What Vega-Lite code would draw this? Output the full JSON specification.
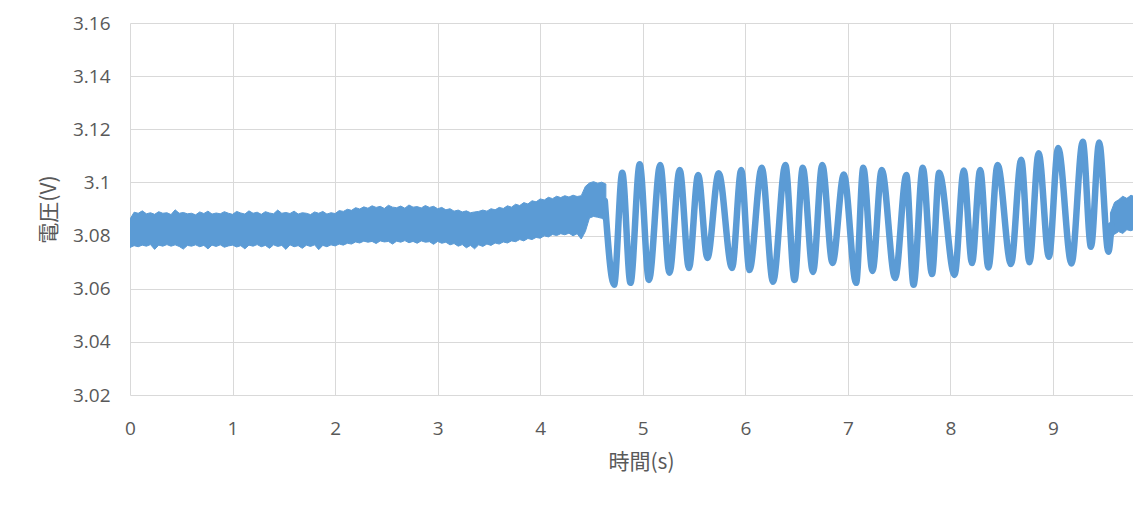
{
"$schema": "https://vega.github.io/schema/vega-lite/v6.json",
"width": 1003,
"height": 372,
"autosize": {"type": "none"},
"padding": {"left": 130, "top": 23, "right": 0, "bottom": 137},
"background": "white",
"config": {"view": {"stroke": null}},
"datasets": {
"band": [
{"t":0.00,"hi":3.0862,"lo":3.0755,"seg":"a"},
{"t":0.04,"hi":3.0888,"lo":3.0762,"seg":"a"},
{"t":0.08,"hi":3.0884,"lo":3.0758,"seg":"a"},
{"t":0.12,"hi":3.0893,"lo":3.0764,"seg":"a"},
{"t":0.16,"hi":3.0882,"lo":3.0760,"seg":"a"},
{"t":0.20,"hi":3.0886,"lo":3.0766,"seg":"a"},
{"t":0.24,"hi":3.0880,"lo":3.0748,"seg":"a"},
{"t":0.28,"hi":3.0890,"lo":3.0764,"seg":"a"},
{"t":0.32,"hi":3.0884,"lo":3.0760,"seg":"a"},
{"t":0.36,"hi":3.0886,"lo":3.0766,"seg":"a"},
{"t":0.40,"hi":3.0879,"lo":3.0760,"seg":"a"},
{"t":0.44,"hi":3.0897,"lo":3.0765,"seg":"a"},
{"t":0.48,"hi":3.0884,"lo":3.0759,"seg":"a"},
{"t":0.52,"hi":3.0887,"lo":3.0749,"seg":"a"},
{"t":0.56,"hi":3.0882,"lo":3.0763,"seg":"a"},
{"t":0.60,"hi":3.0884,"lo":3.0760,"seg":"a"},
{"t":0.64,"hi":3.0878,"lo":3.0765,"seg":"a"},
{"t":0.68,"hi":3.0889,"lo":3.0758,"seg":"a"},
{"t":0.72,"hi":3.0883,"lo":3.0763,"seg":"a"},
{"t":0.76,"hi":3.0892,"lo":3.0750,"seg":"a"},
{"t":0.80,"hi":3.0881,"lo":3.0764,"seg":"a"},
{"t":0.84,"hi":3.0885,"lo":3.0759,"seg":"a"},
{"t":0.88,"hi":3.0882,"lo":3.0765,"seg":"a"},
{"t":0.92,"hi":3.0890,"lo":3.0756,"seg":"a"},
{"t":0.96,"hi":3.0884,"lo":3.0761,"seg":"a"},
{"t":1.00,"hi":3.0880,"lo":3.0764,"seg":"a"},
{"t":1.04,"hi":3.0891,"lo":3.0757,"seg":"a"},
{"t":1.08,"hi":3.0885,"lo":3.0762,"seg":"a"},
{"t":1.12,"hi":3.0881,"lo":3.0750,"seg":"a"},
{"t":1.16,"hi":3.0893,"lo":3.0764,"seg":"a"},
{"t":1.20,"hi":3.0884,"lo":3.0760,"seg":"a"},
{"t":1.24,"hi":3.0888,"lo":3.0766,"seg":"a"},
{"t":1.28,"hi":3.0880,"lo":3.0758,"seg":"a"},
{"t":1.32,"hi":3.0890,"lo":3.0763,"seg":"a"},
{"t":1.36,"hi":3.0885,"lo":3.0752,"seg":"a"},
{"t":1.40,"hi":3.0882,"lo":3.0765,"seg":"a"},
{"t":1.44,"hi":3.0896,"lo":3.0759,"seg":"a"},
{"t":1.48,"hi":3.0884,"lo":3.0763,"seg":"a"},
{"t":1.52,"hi":3.0887,"lo":3.0748,"seg":"a"},
{"t":1.56,"hi":3.0883,"lo":3.0765,"seg":"a"},
{"t":1.60,"hi":3.0892,"lo":3.0758,"seg":"a"},
{"t":1.64,"hi":3.0881,"lo":3.0762,"seg":"a"},
{"t":1.68,"hi":3.0886,"lo":3.0752,"seg":"a"},
{"t":1.72,"hi":3.0884,"lo":3.0764,"seg":"a"},
{"t":1.76,"hi":3.0879,"lo":3.0759,"seg":"a"},
{"t":1.80,"hi":3.0889,"lo":3.0765,"seg":"a"},
{"t":1.84,"hi":3.0884,"lo":3.0747,"seg":"a"},
{"t":1.88,"hi":3.0891,"lo":3.0763,"seg":"a"},
{"t":1.92,"hi":3.0881,"lo":3.0758,"seg":"a"},
{"t":1.96,"hi":3.0886,"lo":3.0765,"seg":"a"},
{"t":2.00,"hi":3.0883,"lo":3.0761,"seg":"a"},
{"t":2.04,"hi":3.0894,"lo":3.0768,"seg":"a"},
{"t":2.08,"hi":3.0891,"lo":3.0764,"seg":"a"},
{"t":2.12,"hi":3.0899,"lo":3.0771,"seg":"a"},
{"t":2.16,"hi":3.0895,"lo":3.0768,"seg":"a"},
{"t":2.20,"hi":3.0905,"lo":3.0776,"seg":"a"},
{"t":2.24,"hi":3.0900,"lo":3.0772,"seg":"a"},
{"t":2.28,"hi":3.0908,"lo":3.0779,"seg":"a"},
{"t":2.32,"hi":3.0903,"lo":3.0775,"seg":"a"},
{"t":2.36,"hi":3.0912,"lo":3.0778,"seg":"a"},
{"t":2.40,"hi":3.0906,"lo":3.0770,"seg":"a"},
{"t":2.44,"hi":3.0910,"lo":3.0780,"seg":"a"},
{"t":2.48,"hi":3.0902,"lo":3.0776,"seg":"a"},
{"t":2.52,"hi":3.0914,"lo":3.0778,"seg":"a"},
{"t":2.56,"hi":3.0907,"lo":3.0768,"seg":"a"},
{"t":2.60,"hi":3.0905,"lo":3.0779,"seg":"a"},
{"t":2.64,"hi":3.0911,"lo":3.0775,"seg":"a"},
{"t":2.68,"hi":3.0903,"lo":3.0781,"seg":"a"},
{"t":2.72,"hi":3.0915,"lo":3.0773,"seg":"a"},
{"t":2.76,"hi":3.0907,"lo":3.0778,"seg":"a"},
{"t":2.80,"hi":3.0909,"lo":3.0771,"seg":"a"},
{"t":2.84,"hi":3.0904,"lo":3.0780,"seg":"a"},
{"t":2.88,"hi":3.0913,"lo":3.0775,"seg":"a"},
{"t":2.92,"hi":3.0906,"lo":3.0777,"seg":"a"},
{"t":2.96,"hi":3.0910,"lo":3.0767,"seg":"a"},
{"t":3.00,"hi":3.0901,"lo":3.0778,"seg":"a"},
{"t":3.04,"hi":3.0906,"lo":3.0771,"seg":"a"},
{"t":3.08,"hi":3.0897,"lo":3.0775,"seg":"a"},
{"t":3.12,"hi":3.0901,"lo":3.0765,"seg":"a"},
{"t":3.16,"hi":3.0892,"lo":3.0770,"seg":"a"},
{"t":3.20,"hi":3.0896,"lo":3.0760,"seg":"a"},
{"t":3.24,"hi":3.0889,"lo":3.0766,"seg":"a"},
{"t":3.28,"hi":3.0893,"lo":3.0754,"seg":"a"},
{"t":3.32,"hi":3.0886,"lo":3.0763,"seg":"a"},
{"t":3.36,"hi":3.0889,"lo":3.0750,"seg":"a"},
{"t":3.40,"hi":3.0891,"lo":3.0765,"seg":"a"},
{"t":3.44,"hi":3.0896,"lo":3.0759,"seg":"a"},
{"t":3.48,"hi":3.0892,"lo":3.0768,"seg":"a"},
{"t":3.52,"hi":3.0901,"lo":3.0763,"seg":"a"},
{"t":3.56,"hi":3.0897,"lo":3.0772,"seg":"a"},
{"t":3.60,"hi":3.0906,"lo":3.0768,"seg":"a"},
{"t":3.64,"hi":3.0902,"lo":3.0776,"seg":"a"},
{"t":3.68,"hi":3.0912,"lo":3.0772,"seg":"a"},
{"t":3.72,"hi":3.0907,"lo":3.0780,"seg":"a"},
{"t":3.76,"hi":3.0918,"lo":3.0777,"seg":"a"},
{"t":3.80,"hi":3.0913,"lo":3.0785,"seg":"a"},
{"t":3.84,"hi":3.0924,"lo":3.0780,"seg":"a"},
{"t":3.88,"hi":3.0919,"lo":3.0789,"seg":"a"},
{"t":3.92,"hi":3.0931,"lo":3.0785,"seg":"a"},
{"t":3.96,"hi":3.0927,"lo":3.0793,"seg":"a"},
{"t":4.00,"hi":3.0938,"lo":3.0790,"seg":"a"},
{"t":4.04,"hi":3.0934,"lo":3.0799,"seg":"a"},
{"t":4.08,"hi":3.0944,"lo":3.0795,"seg":"a"},
{"t":4.12,"hi":3.0939,"lo":3.0804,"seg":"a"},
{"t":4.16,"hi":3.0948,"lo":3.0800,"seg":"a"},
{"t":4.20,"hi":3.0943,"lo":3.0807,"seg":"a"},
{"t":4.24,"hi":3.0950,"lo":3.0803,"seg":"a"},
{"t":4.28,"hi":3.0945,"lo":3.0809,"seg":"a"},
{"t":4.32,"hi":3.0952,"lo":3.0799,"seg":"a"},
{"t":4.36,"hi":3.0947,"lo":3.0807,"seg":"a"},
{"t":4.40,"hi":3.0950,"lo":3.0787,"seg":"a"},
{"t":4.44,"hi":3.0985,"lo":3.0815,"seg":"a"},
{"t":4.48,"hi":3.0998,"lo":3.0866,"seg":"a"},
{"t":4.52,"hi":3.1003,"lo":3.0872,"seg":"a"},
{"t":4.56,"hi":3.0997,"lo":3.0869,"seg":"a"},
{"t":4.60,"hi":3.1001,"lo":3.0865,"seg":"a"},
{"t":4.64,"hi":3.0994,"lo":3.0855,"seg":"a"},
{"t":9.56,"hi":3.0885,"lo":3.0790,"seg":"b"},
{"t":9.60,"hi":3.0925,"lo":3.0805,"seg":"b"},
{"t":9.64,"hi":3.0935,"lo":3.0815,"seg":"b"},
{"t":9.68,"hi":3.0948,"lo":3.0808,"seg":"b"},
{"t":9.72,"hi":3.0940,"lo":3.0822,"seg":"b"},
{"t":9.76,"hi":3.0952,"lo":3.0818,"seg":"b"},
{"t":9.80,"hi":3.0945,"lo":3.0825,"seg":"b"}
],
"wave": [
{"t":4.63,"v":3.0930},
{"t":4.72,"v":3.0615},
{"t":4.80,"v":3.1036},
{"t":4.88,"v":3.0622},
{"t":4.97,"v":3.1068},
{"t":5.06,"v":3.0633},
{"t":5.17,"v":3.1066},
{"t":5.26,"v":3.0660},
{"t":5.36,"v":3.1047},
{"t":5.45,"v":3.0678},
{"t":5.54,"v":3.1028},
{"t":5.63,"v":3.0716},
{"t":5.74,"v":3.1035},
{"t":5.87,"v":3.0678},
{"t":5.96,"v":3.1047},
{"t":6.04,"v":3.0670},
{"t":6.16,"v":3.1055},
{"t":6.27,"v":3.0626},
{"t":6.39,"v":3.1066},
{"t":6.48,"v":3.0633},
{"t":6.56,"v":3.1055},
{"t":6.66,"v":3.0663},
{"t":6.75,"v":3.1066},
{"t":6.85,"v":3.0697},
{"t":6.96,"v":3.1030},
{"t":7.08,"v":3.0622},
{"t":7.15,"v":3.1055},
{"t":7.24,"v":3.0667},
{"t":7.33,"v":3.1047},
{"t":7.46,"v":3.0640},
{"t":7.57,"v":3.1028},
{"t":7.64,"v":3.0615},
{"t":7.73,"v":3.1055},
{"t":7.82,"v":3.0655},
{"t":7.89,"v":3.1036},
{"t":8.04,"v":3.0652},
{"t":8.13,"v":3.1045},
{"t":8.21,"v":3.0697},
{"t":8.29,"v":3.1047},
{"t":8.37,"v":3.0680},
{"t":8.46,"v":3.1066},
{"t":8.59,"v":3.0693},
{"t":8.69,"v":3.1085},
{"t":8.77,"v":3.0700},
{"t":8.86,"v":3.1110},
{"t":8.96,"v":3.0720},
{"t":9.05,"v":3.1130},
{"t":9.18,"v":3.0695},
{"t":9.29,"v":3.1153},
{"t":9.37,"v":3.0758},
{"t":9.45,"v":3.1150},
{"t":9.54,"v":3.0739},
{"t":9.57,"v":3.0840}
]
},
"layer": [
{
"data": {"name": "band"},
"mark": {"type": "area", "color": "#5B9BD5", "opacity": 1, "clip": true, "stroke": "#5B9BD5", "strokeWidth": 1},
"encoding": {
"x": {"field": "t", "type": "quantitative",
 "scale": {"domain": [0, 9.78], "nice": false, "zero": false},
 "axis": {"values": [0,1,2,3,4,5,6,7,8,9], "format": "d", "labelFlush": false, "grid": true, "gridColor": "#d9d9d9", "gridWidth": 1,
  "domain": false, "ticks": false, "tickSize": 0, "labelPadding": 24,
  "labelFont": "Open Sans", "labelFontSize": 19, "labelColor": "#595959",
  "title": "時間(s)", "titleFont": "Noto Sans CJK JP", "titleFontSize": 21, "titleFontWeight": "normal",
  "titleColor": "#595959", "titleX": 511, "titleY": 67, "titleBaseline": "middle", "titleAlign": "center"}},
"y": {"field": "lo", "type": "quantitative",
 "scale": {"domain": [3.02, 3.16], "nice": false, "zero": false},
 "axis": {"values": [3.02,3.04,3.06,3.08,3.1,3.12,3.14,3.16], "format": ".2~f", "labelFlush": false, "grid": true, "gridColor": "#d9d9d9", "gridWidth": 1,
  "domain": false, "ticks": false, "tickSize": 0, "labelPadding": 20,
  "labelFont": "Open Sans", "labelFontSize": 19, "labelColor": "#595959",
  "title": "電圧(V)", "titleFont": "Noto Sans CJK JP", "titleFontSize": 21, "titleFontWeight": "normal",
  "titleColor": "#595959", "titleX": -81, "titleY": 186, "titleAngle": -90, "titleBaseline": "middle", "titleAlign": "center"}},
"y2": {"field": "hi"},
"detail": {"field": "seg"}
}
},
{
"data": {"name": "wave"},
"mark": {"type": "line", "color": "#5B9BD5", "strokeWidth": 6.5, "interpolate": "monotone", "strokeJoin": "round", "strokeCap": "round", "clip": true},
"encoding": {
"x": {"field": "t", "type": "quantitative"},
"y": {"field": "v", "type": "quantitative"}
}
}
]
}
